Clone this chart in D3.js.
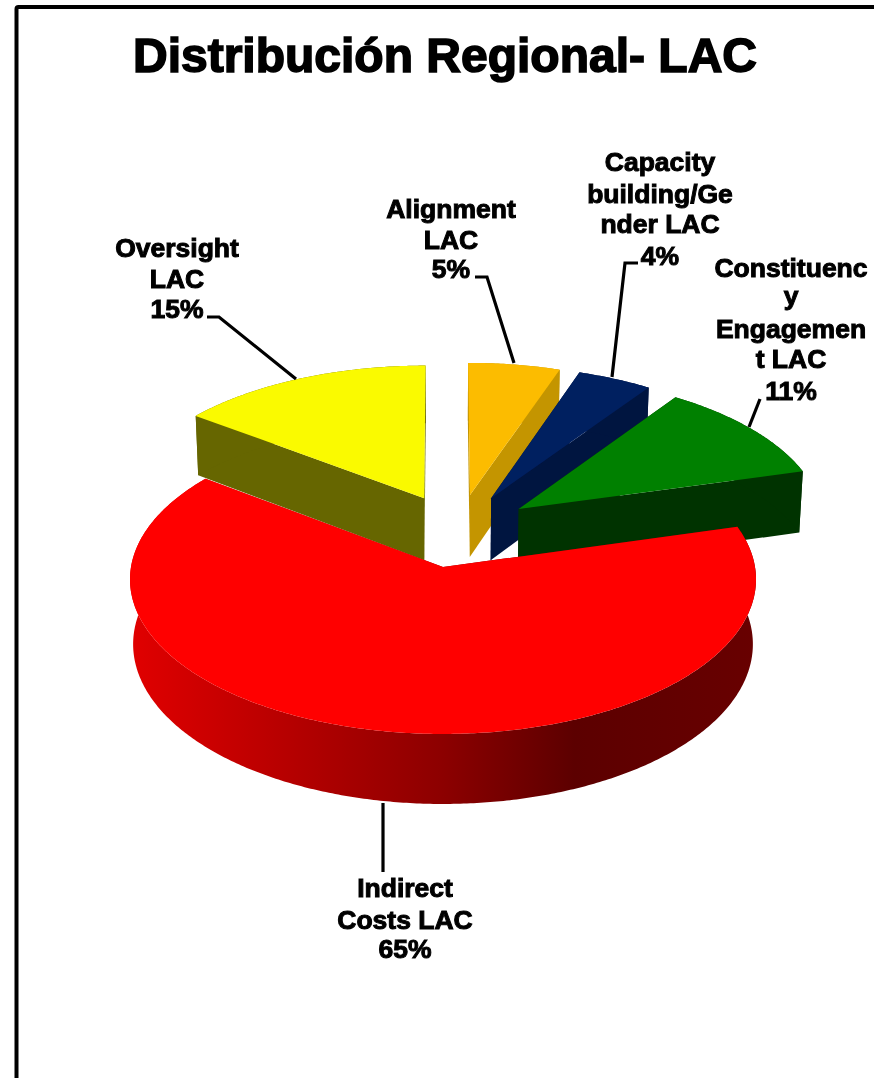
<!DOCTYPE html>
<html>
<head>
<meta charset="utf-8">
<script src="https://cdn.jsdelivr.net/npm/d3@7"></script>
<style>
    html, body { margin: 0; padding: 0; background: #fff; overflow: hidden; }
    text { font-family: "Liberation Sans", Arial, sans-serif; font-weight: bold; fill: #000; stroke: #000; text-anchor: middle; }
</style>
</head>
<body>
<div id="chart"></div>
<script>
const title = "Distribución Regional- LAC"
const names = ["Alignment LAC", "Capacity building/Gender LAC", "Constituency Engagement LAC", "Indirect Costs LAC", "Oversight LAC"]
const values = [5.3, 4.3, 11.1, 64.6, 14.7]
// the chart wraps labels in the middle of words, so keep the wrapped lines
const labelLines = [
    ["Alignment", "LAC"],
    ["Capacity", "building/Ge", "nder LAC"],
    ["Constituenc", "y", "Engagemen", "t LAC"],
    ["Indirect", "Costs LAC"],
    ["Oversight", "LAC"]
]
const topColors = ["#fcbc00", "#002060", "#008000", "#ff0000", "#fafa00"]
const wallColors = ["#c49500", "#001540", "#003300", "url(#redWall)", "#666600"]

// how far each slice is pulled out of the pie, in radius units
const pullX = [0.09, 0.16, 0.25, 0, -0.0625]
const pullY = [0.487, 0.465, 0.389, 0, 0.465]

// label placement: x centre, baseline of each row
const labelX = [451, 660, 791, 405, 177]
const labelY = [[218, 249, 278], [171, 203, 233, 265], [277, 305, 338, 368, 400], [897, 929, 958], [257, 288, 318]]
const leaders = [
    [[475, 277], [487, 277], [514, 363]],
    [[638, 263], [625, 263], [612, 377]],
    [[760, 399], [749, 427]],
    [[383, 803], [383, 872]],
    [[207, 317], [219, 317], [296, 379]]
]

const board = d3.select("#chart")
    .append("svg")
    .attr("width", 874)
    .attr("height", 1078)

const defs = board.append("defs")

defs.append("filter")
    .attr("id", "soft")
    .append("feGaussianBlur")
    .attr("stdDeviation", 0.7)

const redWall = defs.append("linearGradient")
    .attr("id", "redWall")
    .attr("gradientUnits", "userSpaceOnUse")
    .attr("x1", 133)
    .attr("x2", 755)
    .attr("y1", 0)
    .attr("y2", 0)

redWall.append("stop").attr("offset", 0).attr("stop-color", "#e00000")
redWall.append("stop").attr("offset", 0.5).attr("stop-color", "#8c0000")
redWall.append("stop").attr("offset", 0.71).attr("stop-color", "#5c0000")
redWall.append("stop").attr("offset", 1).attr("stop-color", "#680000")

// frame
board.append("path")
    .attr("d", "M16.5,1078 V9 Q16.5,7 18.5,7 H874")
    .attr("fill", "none")
    .attr("stroke", "#000")
    .attr("stroke-width", 4)

board.append("text")
    .attr("x", 445)
    .attr("y", 72)
    .attr("font-size", 48)
    .attr("stroke-width", 1.6)
    .attr("filter", "url(#soft)")
    .text(title)

// perspective view of the pie plane: x to the right, y to the back
const centerX = 443
const centerY = 567
const radiusX = 312
const radiusY = 153.6
const depth = 0.08
const thickness = 64.4
const bottomShrink = 0.99

function project(x, y, down) {
    const w = 1 + depth * y
    const spread = radiusX * x / w
    return [centerX + (down ? spread * bottomShrink : spread), centerY - radiusY * y / w + (down ? thickness / w : 0)]
}

const pie = d3.pie().sort(null).startAngle(0).endAngle(2 * Math.PI)
const line = d3.line()
const slices = pie(values)

function rim(d, i, down) {
    const steps = Math.ceil((d.endAngle - d.startAngle) / 0.01)
    return d3.range(steps + 1).map(s => {
        const a = d.startAngle + (d.endAngle - d.startAngle) * s / steps
        return project(pullX[i] + Math.sin(a), pullY[i] + Math.cos(a), down)
    })
}

function cut(a, i) {
    const inner = [pullX[i], pullY[i]]
    const outer = [pullX[i] + Math.sin(a), pullY[i] + Math.cos(a)]
    return [project(inner[0], inner[1], false), project(outer[0], outer[1], false), project(outer[0], outer[1], true), project(inner[0], inner[1], true)]
}

// back to front: oversight first, indirect costs last
const drawOrder = [4, 0, 1, 2, 3]

drawOrder.forEach(i => {
    const d = slices[i]
    const g = board.append("g")

    g.append("path")
        .attr("d", line(cut(d.startAngle, i)) + "Z")
        .attr("fill", wallColors[i])

    g.append("path")
        .attr("d", line(cut(d.endAngle, i)) + "Z")
        .attr("fill", wallColors[i])

    g.append("path")
        .attr("d", line(rim(d, i, false).concat(rim(d, i, true).reverse())) + "Z")
        .attr("fill", wallColors[i])

    g.append("path")
        .attr("d", line([project(pullX[i], pullY[i], false)].concat(rim(d, i, false))) + "Z")
        .attr("fill", topColors[i])
})

// leader lines, blurred as one group because a straight vertical line has an empty box
const leaderGroup = board.append("g")
    .attr("filter", "url(#soft)")

leaders.forEach(points => {
    leaderGroup.append("path")
        .attr("d", line(points))
        .attr("fill", "none")
        .attr("stroke", "#000")
        .attr("stroke-width", 3.2)
})

// labels
const percent = d3.format(".0%")

names.forEach((name, i) => {
    const rows = labelLines[i].concat(percent(values[i] / 100))
    const label = board.append("text")
        .attr("font-size", 26.5)
        .attr("stroke-width", 1)
        .attr("filter", "url(#soft)")
        .attr("aria-label", name)

    rows.forEach((row, r) => {
        label.append("tspan")
            .attr("x", labelX[i])
            .attr("y", labelY[i][r])
            .text(row)
    })
})
</script>
</body>
</html>
